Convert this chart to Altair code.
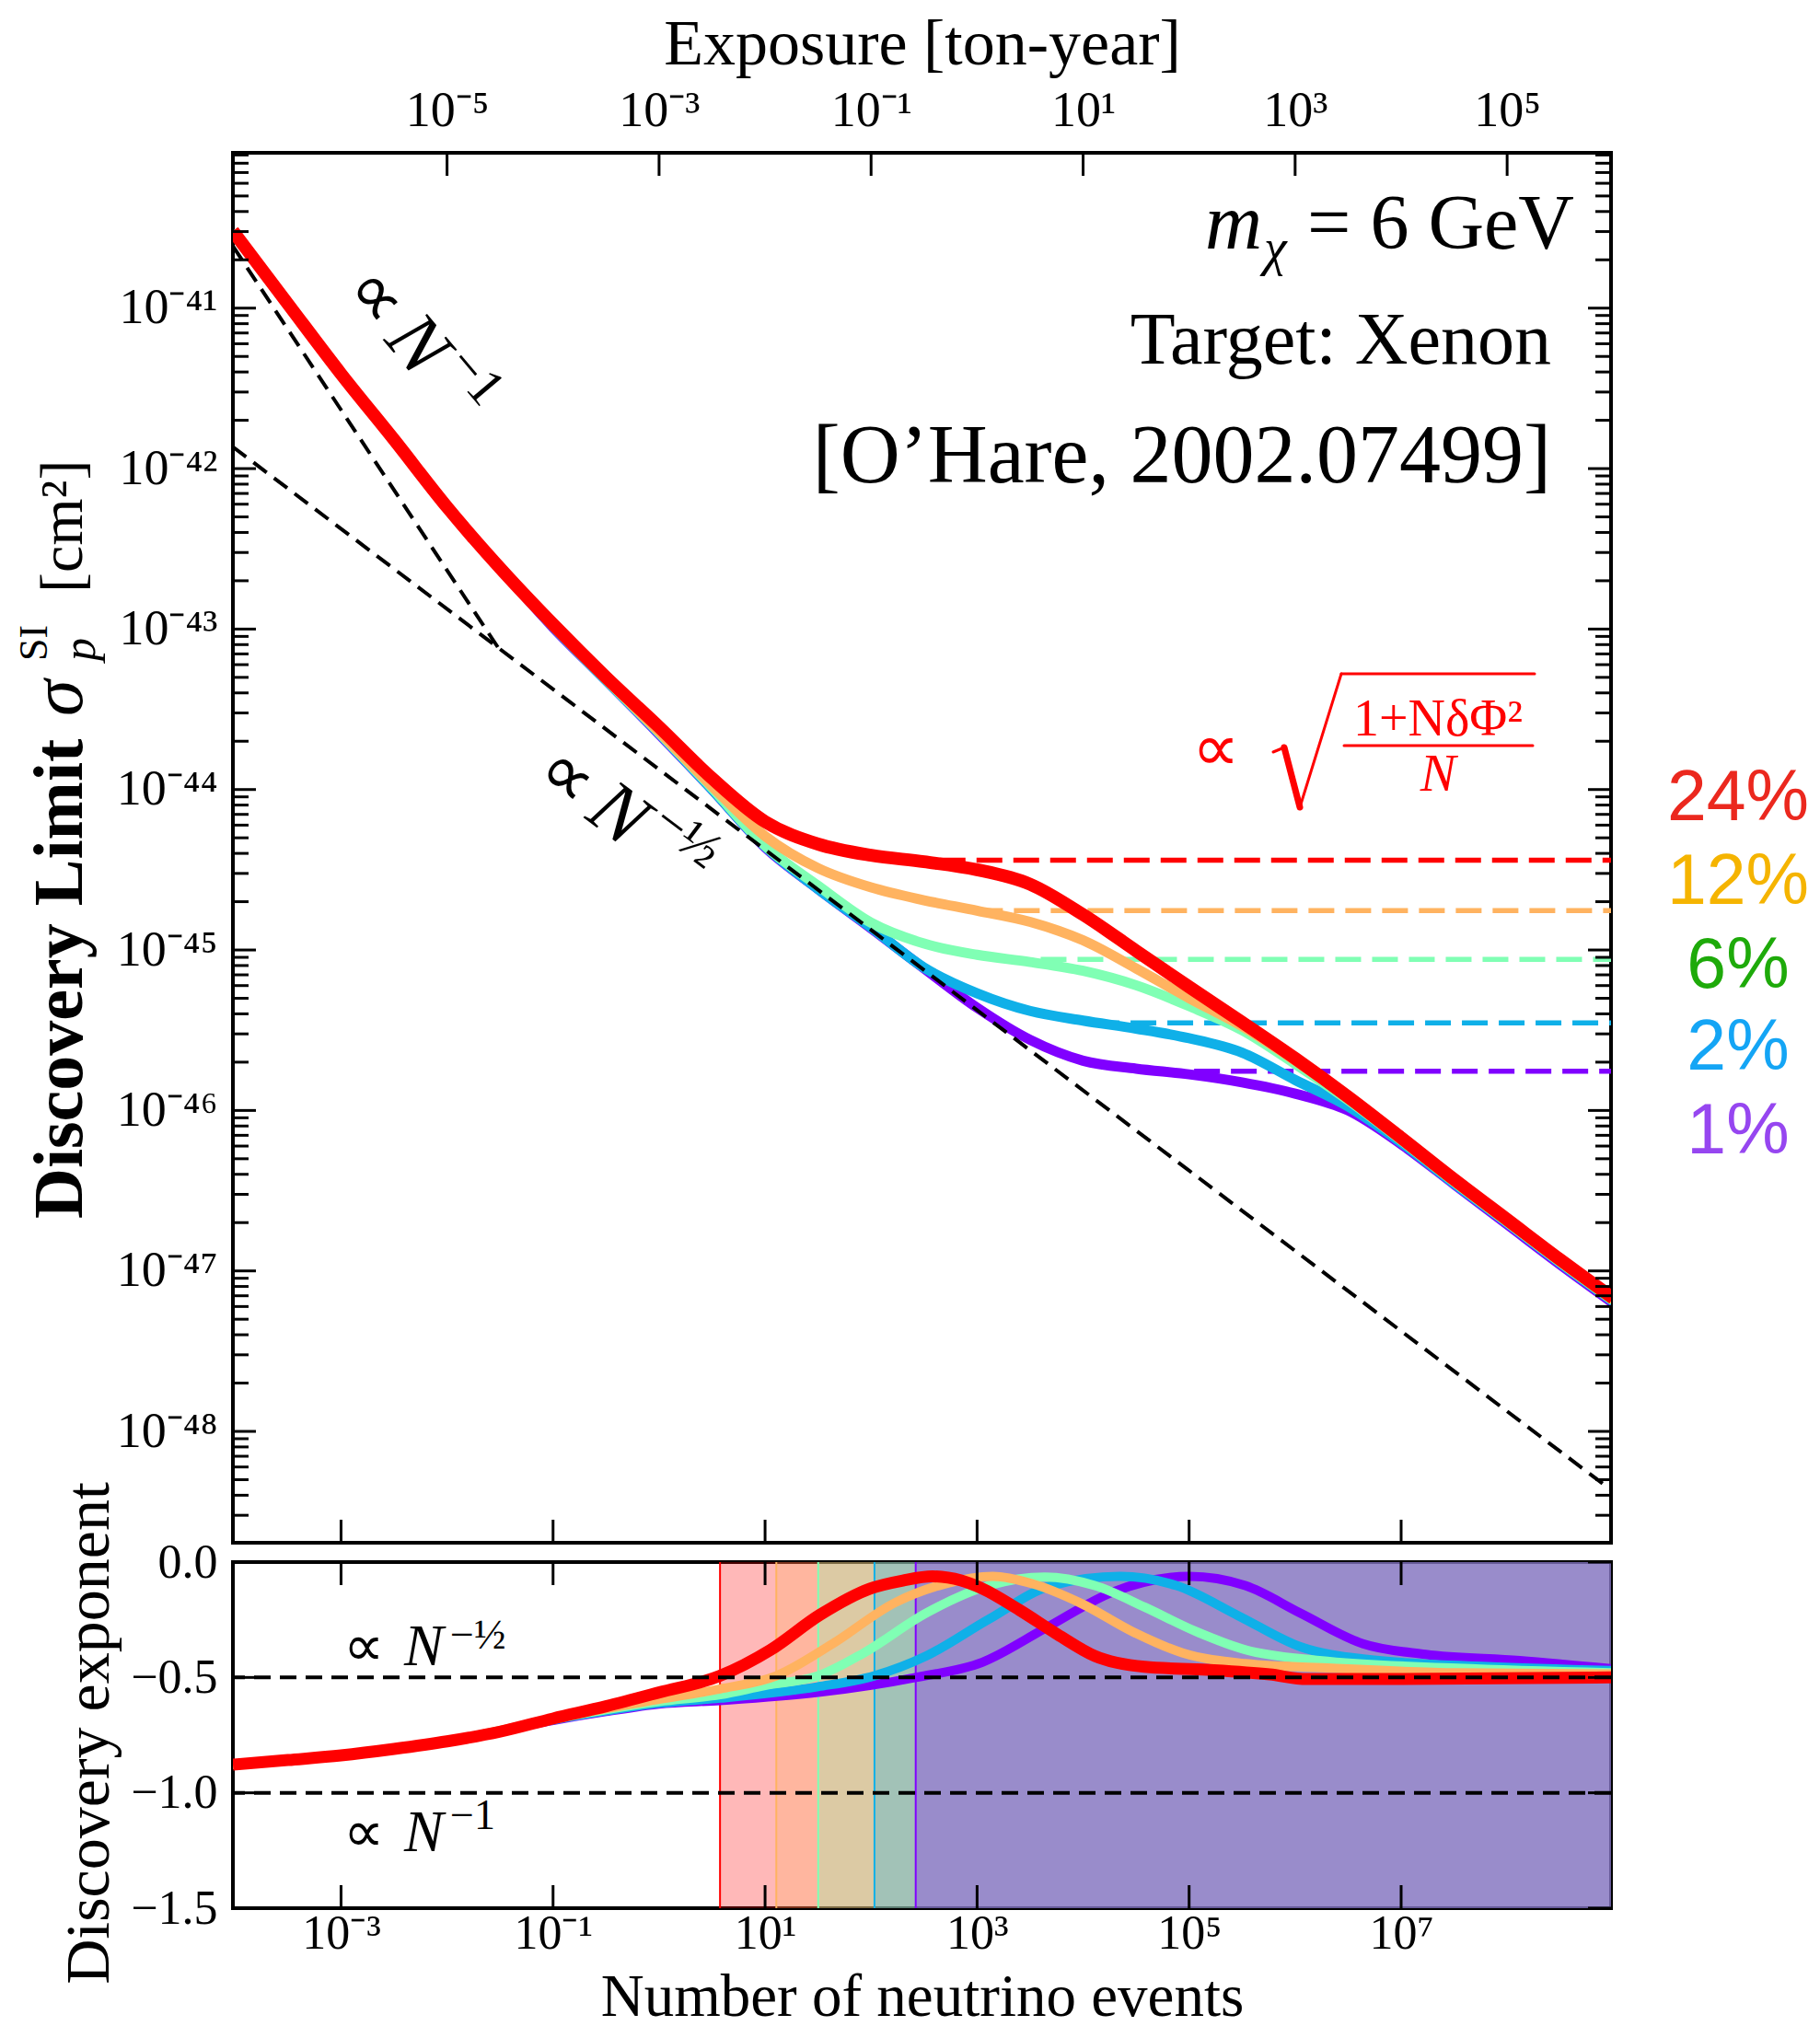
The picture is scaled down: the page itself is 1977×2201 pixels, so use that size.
import altair as alt
import pandas as pd

# ------------------------------------------------------------------ data
SERIES = ["24%", "12%", "6%", "2%", "1%"]
LINE_COLORS = ["#ff0000", "#ffb360", "#80ffb4", "#0fb0e8", "#8000ff"]
LABEL_COLORS = ["#eb281e", "#f5b400", "#1eaa0a", "#14a5f5", "#9646f0"]

# top panel: log10(N) grid and log10(sigma)
LOGN_TOP = [-4.02, -3.5, -3.0, -2.5, -2.0, -1.5, -1.0, -0.5, 0.0, 0.5, 1.0, 1.5, 2.0,
            2.5, 3.0, 3.5, 4.0, 4.5, 5.0, 5.5, 6.0, 6.5, 7.0, 7.5, 8.0, 8.5, 9.0]
RED_TOP = [-40.52, -40.975, -41.41, -41.82, -42.24, -42.62, -42.97, -43.30, -43.61, -43.93,
           -44.20, -44.34, -44.41, -44.45, -44.50, -44.59, -44.78, -45.005, -45.23, -45.45,
           -45.675, -45.915, -46.17, -46.43, -46.68, -46.93, -47.17]
ORANGE_TOP = [-40.52, -40.975, -41.41, -41.82, -42.24, -42.62, -42.975, -43.31, -43.64, -43.98,
              -44.29, -44.49, -44.61, -44.69, -44.755, -44.825, -44.94, -45.115, -45.30, -45.475,
              -45.69, -45.925, -46.18, -46.44, -46.69, -46.94, -47.18]
GREEN_TOP = [-40.52, -40.975, -41.41, -41.82, -42.24, -42.62, -42.98, -43.315, -43.645, -43.99,
             -44.35, -44.60, -44.83, -44.96, -45.03, -45.075, -45.13, -45.22, -45.35, -45.50,
             -45.71, -45.935, -46.185, -46.445, -46.695, -46.945, -47.185]
BLUE_TOP = [-40.52, -40.975, -41.41, -41.82, -42.24, -42.62, -42.985, -43.32, -43.65, -44.0,
            -44.355, -44.62, -44.86, -45.11, -45.27, -45.38, -45.44, -45.49, -45.55, -45.64,
            -45.81, -45.975, -46.20, -46.455, -46.70, -46.95, -47.19]
PURPLE_TOP = [-40.52, -40.975, -41.41, -41.82, -42.24, -42.62, -42.99, -43.32, -43.655, -44.0,
              -44.36, -44.62, -44.865, -45.115, -45.36, -45.56, -45.69, -45.74, -45.775, -45.825,
              -45.895, -46.0, -46.21, -46.46, -46.71, -46.96, -47.20]
TOP_VALUES = [RED_TOP, ORANGE_TOP, GREEN_TOP, BLUE_TOP, PURPLE_TOP]

# plateau (dashed) levels, log10(sigma), and where they emerge (log10 N)
PLATEAU = [-44.44, -44.754, -45.059, -45.454, -45.755]
PLATEAU_START = [2.3, 3.0, 3.6, 4.1, 4.7]

# black dashed guides: (log10 N, log10 sigma)
GUIDE_NM1 = [(-4.02, -40.614), (-1.518, -43.116)]
GUIDE_NM12 = [(-4.02, -41.865), (9.0, -48.375)]

# bottom panel: discovery exponent
RED_BOT_LOGN = [-4.02, -3.5, -3.0, -2.5, -2.0, -1.5, -1.0, -0.5, 0.0, 0.575, 1.05, 1.52, 1.99,
                2.3, 2.58, 2.85, 3.05, 3.40, 3.76, 4.11, 4.58, 5.17, 5.76, 6.11, 6.94, 9.0]
RED_BOT = [-0.878, -0.858, -0.838, -0.81, -0.777, -0.735, -0.678, -0.625, -0.565, -0.493, -0.381,
           -0.228, -0.115, -0.08, -0.062, -0.08, -0.115, -0.208, -0.314, -0.407, -0.454, -0.467,
           -0.487, -0.507, -0.507, -0.50]
ORANGE_BOT_LOGN = [-4.02, -3.0, -2.0, -1.0, -0.5, 0.0, 0.575, 1.106, 1.637, 2.23, 2.70, 3.15,
                   3.52, 3.99, 4.46, 4.94, 5.53, 6.35, 7.53, 9.0]
ORANGE_BOT = [-0.878, -0.838, -0.777, -0.68, -0.635, -0.595, -0.55, -0.493, -0.354, -0.175,
              -0.094, -0.062, -0.094, -0.181, -0.30, -0.394, -0.44, -0.46, -0.48, -0.485]
GREEN_BOT_LOGN = [-4.02, -3.0, -2.0, -1.0, -0.5, 0.0, 0.575, 1.0, 1.501, 1.93, 2.52, 3.11, 3.64,
                  4.11, 4.58, 5.06, 5.53, 6.23, 7.53, 9.0]
GREEN_BOT = [-0.878, -0.838, -0.777, -0.682, -0.64, -0.605, -0.575, -0.535, -0.493, -0.394,
             -0.221, -0.102, -0.065, -0.102, -0.195, -0.30, -0.38, -0.427, -0.46, -0.48]
BLUE_BOT_LOGN = [-4.02, -3.0, -2.0, -1.0, -0.5, 0.0, 0.575, 1.5, 2.03, 2.52, 3.11, 3.70, 4.35,
                 4.88, 5.47, 6.05, 6.64, 7.82, 9.0]
BLUE_BOT = [-0.878, -0.838, -0.777, -0.684, -0.645, -0.612, -0.59, -0.54, -0.493, -0.407,
            -0.248, -0.102, -0.062, -0.102, -0.234, -0.367, -0.42, -0.453, -0.47]
PURPLE_BOT_LOGN = [-4.02, -3.0, -2.0, -1.0, -0.5, 0.0, 0.575, 1.5, 2.42, 3.05, 3.64, 4.29, 5.0,
                   5.53, 6.05, 6.64, 7.23, 8.12, 9.0]
PURPLE_BOT = [-0.878, -0.838, -0.777, -0.686, -0.648, -0.615, -0.60, -0.565, -0.50, -0.434,
              -0.288, -0.128, -0.062, -0.102, -0.221, -0.354, -0.40, -0.427, -0.463]
BOT_LOGN = [RED_BOT_LOGN, ORANGE_BOT_LOGN, GREEN_BOT_LOGN, BLUE_BOT_LOGN, PURPLE_BOT_LOGN]
BOT_VALUES = [RED_BOT, ORANGE_BOT, GREEN_BOT, BLUE_BOT, PURPLE_BOT]

# shaded regions start (log10 N) where each curve crosses -1/2
BAND_START = [0.575, 1.106, 1.501, 2.032, 2.421]
BAND_END = 9.0

# axis tick exponents
X_TICK_EXP = [-3, -1, 1, 3, 5, 7]            # number of events
EXPOSURE_TICK_EXP = [-5, -3, -1, 1, 3, 5]    # ton-year  (N = 1e3 * exposure)
Y_TICK_EXP = [-41, -42, -43, -44, -45, -46, -47, -48]
Y_BOT_TICKS = [0.0, -0.5, -1.0, -1.5]
GUIDE_LEVELS = [-0.5, -1.0]

# ------------------------------------------------------------------ layout
W = 1497
H_TOP = 1510
H_BOT = 376
FONT = "Liberation Serif"
ONE = pd.DataFrame({"k": [0]})

xs = alt.Scale(type="log", domain=[10 ** -4.02, 10 ** 8.98], nice=False)
ys_top = alt.Scale(type="log", domain=[10 ** -48.694, 10 ** -40.032], nice=False)
ys_bot = alt.Scale(domain=[-1.5, 0.0], nice=False, zero=False)

SUP = str.maketrans("-0123456789", "⁻⁰¹²³⁴⁵⁶⁷⁸⁹")


def sup(n):
    return str(n).translate(SUP)


def label_expr(pairs):
    k = "round(log(datum.value)/LN10)"
    s = "''"
    for e, lab in reversed(pairs):
        s = f"({k} == {e}) ? '{lab}' : {s}"
    return s


def txt(s, x, y, size, **kw):
    props = dict(text=s, fontSize=size, font=FONT, color="black", align="left",
                 baseline="alphabetic")
    props.update(kw)
    return alt.Chart(ONE).mark_text(**props).encode(x=alt.value(x), y=alt.value(y))


def seg(x1, y1, x2, y2, w, color="red"):
    return alt.Chart(ONE).mark_rule(color=color, strokeWidth=w, strokeCap="round").encode(
        x=alt.value(x1), y=alt.value(y1), x2=alt.value(x2), y2=alt.value(y2))


common_axis = dict(domain=False, ticks=False, tickSize=0, grid=False, labelFont=FONT,
                   titleFont=FONT, labelColor="black", titleColor="black",
                   labelFlush=False, labelOverlap=False, labelBound=False,
                   titleFontWeight="normal")

# axes (the same axis object is given to every layer so that they merge)
TOP_X_AXIS = alt.Axis(orient="top", values=[10.0 ** (e + 3) for e in EXPOSURE_TICK_EXP],
                      labelExpr=label_expr([(e + 3, "10" + sup(e)) for e in EXPOSURE_TICK_EXP]),
                      title="Exposure [ton-year]", labelFontSize=54, labelPadding=30,
                      labelBaseline="alphabetic", titleFontSize=70, titleY=-97,
                      titleBaseline="alphabetic", **common_axis)
TOP_Y_AXIS = alt.Axis(orient="left", values=[10.0 ** e for e in Y_TICK_EXP],
                      labelExpr=label_expr([(e, "10" + sup(e)) for e in Y_TICK_EXP]),
                      title=None, labelFontSize=54, labelPadding=17, labelBaseline="middle",
                      **common_axis)
BOT_X_AXIS = alt.Axis(orient="bottom", values=[10.0 ** e for e in X_TICK_EXP],
                      labelExpr=label_expr([(e, "10" + sup(e)) for e in X_TICK_EXP]),
                      title="Number of neutrino events", labelFontSize=52, labelPadding=43,
                      labelBaseline="alphabetic", titleFontSize=65, titleY=116,
                      titleBaseline="alphabetic", **common_axis)
BOT_Y_AXIS = alt.Axis(orient="left", values=Y_BOT_TICKS, format=".1f", title=None,
                      labelFontSize=52, labelPadding=17, labelBaseline="middle", **common_axis)


def TX(f):
    return alt.X(f, scale=xs, axis=TOP_X_AXIS)


def TY(f):
    return alt.Y(f, scale=ys_top, axis=TOP_Y_AXIS)


def BX(f):
    return alt.X(f, scale=xs, axis=BOT_X_AXIS)


def BY(f):
    return alt.Y(f, scale=ys_bot, axis=BOT_Y_AXIS)


def y_ticks(values, length, Y):
    df = pd.DataFrame({"v": values})
    base = alt.Chart(df).mark_rule(color="black", strokeWidth=3)
    return [base.encode(y=Y("v:Q"), x=alt.value(0), x2=alt.value(length)),
            base.encode(y=Y("v:Q"), x=alt.value(W - length), x2=alt.value(W))]


def x_ticks(values, length, H, X, top=True, bottom=True):
    df = pd.DataFrame({"v": values})
    base = alt.Chart(df).mark_rule(color="black", strokeWidth=3)
    out = []
    if top:
        out.append(base.encode(x=X("v:Q"), y=alt.value(0), y2=alt.value(length)))
    if bottom:
        out.append(base.encode(x=X("v:Q"), y=alt.value(H - length), y2=alt.value(H)))
    return out


color_scale = alt.Scale(domain=SERIES, range=LINE_COLORS)

# ------------------------------------------------------------------ top panel
top_layers = []
pl_df = pd.DataFrame({"series": SERIES,
                      "x0": [10 ** s for s in PLATEAU_START],
                      "x1": [10 ** 8.98] * 5,
                      "p": [10 ** p for p in PLATEAU]})
top_layers.append(
    alt.Chart(pl_df).mark_rule(strokeWidth=5.5, strokeDash=[28, 12]).encode(
        x=TX("x0:Q"), x2="x1:Q", y=TY("p:Q"),
        color=alt.Color("series:N", scale=color_scale, legend=None)))
for i in [4, 3, 2, 1, 0]:
    df = pd.DataFrame({"N": [10 ** v for v in LOGN_TOP],
                       "S": [10 ** v for v in TOP_VALUES[i]]})
    top_layers.append(
        alt.Chart(df).mark_line(color=LINE_COLORS[i], strokeWidth=14 if i == 0 else 11,
                                interpolate="monotone", clip=True, strokeCap="butt").encode(
            x=TX("N:Q"), y=TY("S:Q")))
g_rows = []
for name, pts in [("m1", GUIDE_NM1), ("m12", GUIDE_NM12)]:
    for lg, ls in pts:
        g_rows.append({"g": name, "N": 10 ** lg, "S": 10 ** ls})
top_layers.append(
    alt.Chart(pd.DataFrame(g_rows)).mark_line(color="black", strokeWidth=4,
                                              strokeDash=[18, 10], clip=True).encode(
        x=TX("N:Q"), y=TY("S:Q"), detail="g:N"))
minor = []
for e in range(-49, -40):
    for m in range(2, 10):
        v = m * 10.0 ** e
        if 10 ** -48.694 < v < 10 ** -40.032:
            minor.append(v)
top_layers += y_ticks([10.0 ** e for e in Y_TICK_EXP], 25, TY)
top_layers += y_ticks(minor, 17, TY)
top_layers += x_ticks([10.0 ** (e + 3) for e in EXPOSURE_TICK_EXP], 25, H_TOP, TX,
                      top=True, bottom=False)
top_layers += x_ticks([10.0 ** e for e in X_TICK_EXP], 25, H_TOP, TX, top=False, bottom=True)

top_layers += [
    txt("= 6 GeV", 1457, 104, 84, align="right"),
    txt("m", 1118, 104, 86, align="right", fontStyle="italic"),
    txt("χ", 1120, 122, 56, fontStyle="italic"),
    txt("Target: Xenon", 1432, 229, 80, align="right"),
    txt("[O’Hare, 2002.07499]", 1432, 358, 90, align="right"),
    # proportional-to labels along the guides
    txt("∝", 118, 150, 80, angle=50),
    txt("N", 118, 150, 84, angle=50, dx=70, fontStyle="italic"),
    txt("−1", 118, 150, 58, angle=50, dx=134, dy=-34),
    txt("∝", 325, 680, 80, angle=37),
    txt("N", 325, 680, 84, angle=37, dx=70, fontStyle="italic"),
    txt("−½", 325, 680, 58, angle=37, dx=134, dy=-34),
    # red formula
    txt("∝", 1067, 649, 72, align="center", baseline="middle", color="red"),
    txt("1+NδΦ²", 1309, 633, 56, align="center", color="red"),
    txt("N", 1309, 693, 58, align="center", color="red", fontStyle="italic"),
    seg(1207, 644, 1412, 644, 3),
    seg(1130, 651, 1142, 646, 3),
    seg(1142, 646, 1159, 711, 7),
    seg(1159, 711, 1204, 566, 3),
    seg(1204, 566, 1414, 566, 3),
    # y title
    txt("Discovery Limit", -164, 1158, 76, angle=270, fontWeight="bold"),
    txt("σ", -164, 612, 80, angle=270, fontStyle="italic"),
    txt("SI", -164, 552, 44, angle=270, dy=-38),
    txt("p", -164, 552, 50, angle=270, dy=14, fontStyle="italic"),
    txt("[cm²]", -164, 478, 66, angle=270),
]
for i, (s, yb) in enumerate(zip(SERIES, [725, 816, 907, 996, 1087])):
    top_layers.append(txt(s, 1635, yb, 77, align="center", font="Liberation Sans",
                          color=LABEL_COLORS[i]))

top = alt.layer(*top_layers).properties(width=W, height=H_TOP)

# ------------------------------------------------------------------ bottom panel
bot_layers = []
band_df = pd.DataFrame({"series": SERIES, "x0": [10 ** b for b in BAND_START],
                        "x1": [10 ** BAND_END] * 5})
bot_layers.append(
    alt.Chart(band_df).mark_rect(opacity=0.28, clip=True).encode(
        x=BX("x0:Q"), x2="x1:Q", y=alt.value(0), y2=alt.value(H_BOT),
        color=alt.Color("series:N", scale=color_scale, legend=None)))
bot_layers.append(
    alt.Chart(band_df).mark_rule(strokeWidth=2).encode(
        x=BX("x0:Q"), color=alt.Color("series:N", scale=color_scale, legend=None)))
for i in [4, 3, 2, 1, 0]:
    df = pd.DataFrame({"N": [10 ** v for v in BOT_LOGN[i]], "E": BOT_VALUES[i]})
    bot_layers.append(
        alt.Chart(df).mark_line(color=LINE_COLORS[i], strokeWidth=13 if i == 0 else 10,
                                interpolate="monotone", clip=True, strokeCap="butt").encode(
            x=BX("N:Q"), y=BY("E:Q")))
bot_layers.append(
    alt.Chart(pd.DataFrame({"v": GUIDE_LEVELS})).mark_rule(
        color="black", strokeWidth=4, strokeDash=[18, 10]).encode(y=BY("v:Q")))
bot_layers += y_ticks(Y_BOT_TICKS, 25, BY)
bot_layers += x_ticks([10.0 ** e for e in X_TICK_EXP], 25, H_BOT, BX, top=True, bottom=True)
bot_layers += [
    txt("∝", 120, 112, 62),
    txt("N", 186, 112, 64, fontStyle="italic"),
    txt("−½", 236, 94, 46),
    txt("∝", 120, 314, 62),
    txt("N", 186, 314, 64, fontStyle="italic"),
    txt("−1", 236, 290, 46),
    txt("Discovery exponent", -135, 186, 68, angle=270, align="center"),
]
bot = alt.layer(*bot_layers).properties(width=W, height=H_BOT)

chart = alt.vconcat(top, bot, spacing=21, bounds="flush").properties(
    padding={"left": 14, "top": 11, "right": 0, "bottom": 0},
    background="white",
).configure_view(stroke="black", strokeWidth=4)

chart.save("out.html", embed_options={"renderer": "svg", "actions": False})
